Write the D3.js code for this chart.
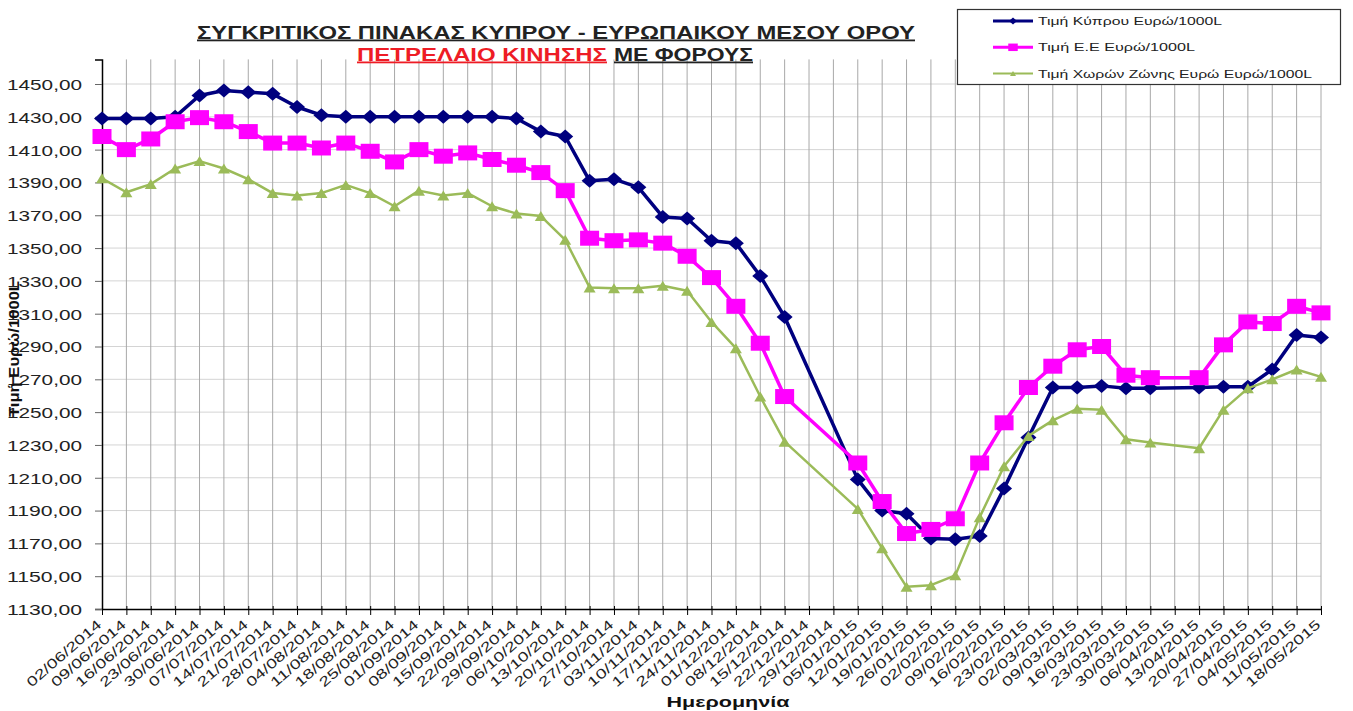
<!DOCTYPE html>
<html>
<head>
<meta charset="utf-8">
<script src="https://cdn.jsdelivr.net/npm/d3@7"></script>
<style>
  html, body { margin: 0; padding: 0; background: #fff; }
  svg { display: block; }
  text { font-family: "Liberation Sans", Arial, sans-serif; }
</style>
</head>
<body>
<svg id="chart" width="1353" height="711"></svg>
<script>
// ---- DATA ----
const dates = ["02/06/2014","09/06/2014","16/06/2014","23/06/2014","30/06/2014","07/07/2014","14/07/2014","21/07/2014","28/07/2014",
  "04/08/2014","11/08/2014","18/08/2014","25/08/2014","01/09/2014","08/09/2014","15/09/2014","22/09/2014","29/09/2014",
  "06/10/2014","13/10/2014","20/10/2014","27/10/2014","03/11/2014","10/11/2014","17/11/2014","24/11/2014",
  "01/12/2014","08/12/2014","15/12/2014","22/12/2014","29/12/2014","05/01/2015","12/01/2015","19/01/2015","26/01/2015",
  "02/02/2015","09/02/2015","16/02/2015","23/02/2015","02/03/2015","09/03/2015","16/03/2015","23/03/2015","30/03/2015",
  "06/04/2015","13/04/2015","20/04/2015","27/04/2015","04/05/2015","11/05/2015","18/05/2015"];

const cyprusPrice = [1429,1429,1429,1430,1443,1446,1445,1444,1436,1431,1430,1430,1430,1430,1430,1430,1430,1429,1421,1418,
  1391,1392,1387,1369,1368,1354.5,1353,1333,1308,null,null,
  1209,1190,1188,1173,1172.5,1174.5,1203.5,1234.5,1265,1265,1266,1264.5,1264.5,null,
  1265,1265.5,1265.5,1276,1297,1295.5];

const euPrice = [1418,1410,1416.5,1427,1429.5,1427,1421,1414,1414,1411,1414,1409,1402.5,1410,1406,1408,1404,1400.5,1396,1385,
  1356,1354.5,1355,1353,1345,1332,1314.5,1292,1259.5,null,null,
  1219,1195.5,1176,1178.5,1185,1219,1243.5,1265,1278,1288,1290,1272.5,1271,null,
  1271,1291,1305,1304,1314.5,1310.5];

const euroZonePrice = [1392.5,1384,1389,1398.5,1403,1398.5,1392,1383.5,1382,1383.5,1388.5,1383.5,1375.5,1385,1382,1383.5,1375.5,1371,1369.5,1355,
  1326,1325.5,1325.5,1327,1324,1305,1289,1259.5,1232,null,null,
  1191,1167,1143.5,1144.5,1150.5,1186,1217,1235.5,1245,1252,1251.5,1233.5,1231.5,null,
  1228,1251.5,1264.5,1270,1276,1271.5];

const seriesNames = ["Τιμή Κύπρου Ευρώ/1000L", "Τιμή Ε.Ε Ευρώ/1000L", "Τιμή Χωρών Ζώνης Ευρώ Ευρώ/1000L"];
const yTickValues = [1130,1150,1170,1190,1210,1230,1250,1270,1290,1310,1330,1350,1370,1390,1410,1430,1450];
const titleLine1 = "ΣΥΓΚΡΙΤΙΚΟΣ ΠΙΝΑΚΑΣ ΚΥΠΡΟΥ - ΕΥΡΩΠΑΙΚΟΥ ΜΕΣΟΥ ΟΡΟΥ";
const titleRed = "ΠΕΤΡΕΛΑΙΟ ΚΙΝΗΣΗΣ";
const titleRest = "ΜΕ ΦΟΡΟΥΣ";
const xTitle = "Ημερομηνία";
const yTitle = "Τιμή Ευρώ/1000L";

// ---- CHART ----
const svg = d3.select("#chart");
const plotLeft = 102, plotRight = 1321, plotTop = 59.4, plotBottom = 609;

const x = d3.scalePoint().domain(dates).range([plotLeft, plotRight]).padding(0);
const y = d3.scaleLinear().domain([1130, 1465]).range([plotBottom, plotTop]);

// gridlines
const grid = svg.append("g");
grid.selectAll("line.h").data(yTickValues.slice(1)).join("line")
  .attr("class", "h")
  .attr("x1", plotLeft).attr("x2", plotRight)
  .attr("y1", d => y(d)).attr("y2", d => y(d))
  .attr("stroke", "#d4d4d4").attr("stroke-width", 1);
grid.selectAll("line.v").data(dates.slice(1)).join("line")
  .attr("class", "v")
  .attr("x1", d => x(d)).attr("x2", d => x(d))
  .attr("y1", plotTop).attr("y2", plotBottom)
  .attr("stroke", "#a8a8a8").attr("stroke-width", 1);

// y axis
const yAxis = svg.append("g").attr("transform", `translate(${plotLeft},0)`)
  .call(d3.axisLeft(y).tickValues(yTickValues).tickSize(7).tickPadding(0)
    .tickFormat(d => d.toFixed(2).replace(".", ",")));
yAxis.select(".domain").attr("stroke", "#000").attr("stroke-width", 1.5);
yAxis.selectAll(".tick line").attr("stroke", "#666");
yAxis.selectAll(".tick text")
  .attr("x", -20).attr("dy", "0.36em")
  .attr("font-size", 15).attr("fill", "#222")
  .attr("textLength", 75).attr("lengthAdjust", "spacingAndGlyphs");

// x axis
const xAxis = svg.append("g").attr("transform", `translate(0,${plotBottom})`)
  .call(d3.axisBottom(x).tickSize(6).tickSizeOuter(0));
xAxis.select(".domain").attr("stroke", "#000").attr("stroke-width", 1.5);
xAxis.selectAll(".tick line").attr("y1", -3).attr("y2", 6).attr("stroke", "#000");
xAxis.selectAll(".tick text")
  .attr("y", 0).attr("dy", 0)
  .attr("text-anchor", "end")
  .attr("transform", "translate(0,17) rotate(-41)")
  .attr("font-size", 13.5).attr("fill", "#222")
  .attr("textLength", 94).attr("lengthAdjust", "spacingAndGlyphs");

// series
const series = [
  {values: cyprusPrice, color: "#00007f", width: 3.5, marker: "diamond"},
  {values: euPrice, color: "#ff00ff", width: 3.5, marker: "square"},
  {values: euroZonePrice, color: "#9bbb59", width: 2.5, marker: "triangle"}
];

function markerPath(type, s) {
  if (type === "diamond") { const w = 8 * s, h = 7 * s; return `M0,${-h}L${w},0L0,${h}L${-w},0Z`; }
  if (type === "square") { const w = 9.5 * s, h = 7.5 * s; return `M${-w},${-h}H${w}V${h}H${-w}Z`; }
  const w = 6 * s, h = 5 * s; return `M0,${-h}L${w},${h}L${-w},${h}Z`;
}

const line = d3.line().x(d => x(d.date)).y(d => y(d.v));
series.forEach(s => {
  const pts = dates.map((dt, i) => ({date: dt, v: s.values[i]})).filter(p => p.v !== null);
  const g = svg.append("g");
  g.append("path").datum(pts).attr("d", line)
    .attr("fill", "none").attr("stroke", s.color).attr("stroke-width", s.width)
    .attr("stroke-linejoin", "round");
  g.selectAll("path.m").data(pts).join("path")
    .attr("class", "m")
    .attr("transform", d => `translate(${x(d.date)},${y(d.v)})`)
    .attr("d", markerPath(s.marker, 1))
    .attr("fill", s.color);
});

// title
svg.append("text").attr("x", 197).attr("y", 38.5)
  .attr("font-size", 18).attr("font-weight", "bold").attr("fill", "#222")
  .attr("text-decoration", "underline")
  .attr("textLength", 718).attr("lengthAdjust", "spacingAndGlyphs")
  .text(titleLine1);
svg.append("text").attr("x", 357).attr("y", 60.5)
  .attr("font-size", 18).attr("font-weight", "bold").attr("fill", "#ee1c25")
  .attr("text-decoration", "underline")
  .attr("textLength", 250).attr("lengthAdjust", "spacingAndGlyphs")
  .text(titleRed);
svg.append("text").attr("x", 614).attr("y", 60.5)
  .attr("font-size", 18).attr("font-weight", "bold").attr("fill", "#222")
  .attr("text-decoration", "underline")
  .attr("textLength", 139).attr("lengthAdjust", "spacingAndGlyphs")
  .text(titleRest);

// axis titles
svg.append("text").attr("x", 728).attr("y", 707).attr("text-anchor", "middle")
  .attr("font-size", 15).attr("font-weight", "bold").attr("fill", "#111")
  .attr("textLength", 123).attr("lengthAdjust", "spacingAndGlyphs")
  .text(xTitle);
svg.append("text").attr("transform", "translate(19,349) rotate(-90)").attr("text-anchor", "middle")
  .attr("font-size", 15).attr("font-weight", "bold").attr("fill", "#111")
  .attr("textLength", 136).attr("lengthAdjust", "spacingAndGlyphs")
  .text(yTitle);

// legend
const lg = svg.append("g");
lg.append("rect").attr("x", 957.5).attr("y", 9.5).attr("width", 383).attr("height", 75)
  .attr("fill", "#fff").attr("stroke", "#333").attr("stroke-width", 1.2);
const legendLengths = [184, 157, 274];
series.forEach((s, i) => {
  const ly = 21 + i * 26.3;
  lg.append("line").attr("x1", 993).attr("x2", 1033).attr("y1", ly).attr("y2", ly)
    .attr("stroke", s.color).attr("stroke-width", s.width - 0.5);
  lg.append("path").attr("transform", `translate(1013,${ly})`)
    .attr("d", markerPath(s.marker, 0.5)).attr("fill", s.color);
  lg.append("text").attr("x", 1038).attr("y", ly + 4)
    .attr("font-size", 11.5).attr("fill", "#222")
    .attr("textLength", legendLengths[i]).attr("lengthAdjust", "spacingAndGlyphs")
    .text(seriesNames[i]);
});
</script>
</body>
</html>
